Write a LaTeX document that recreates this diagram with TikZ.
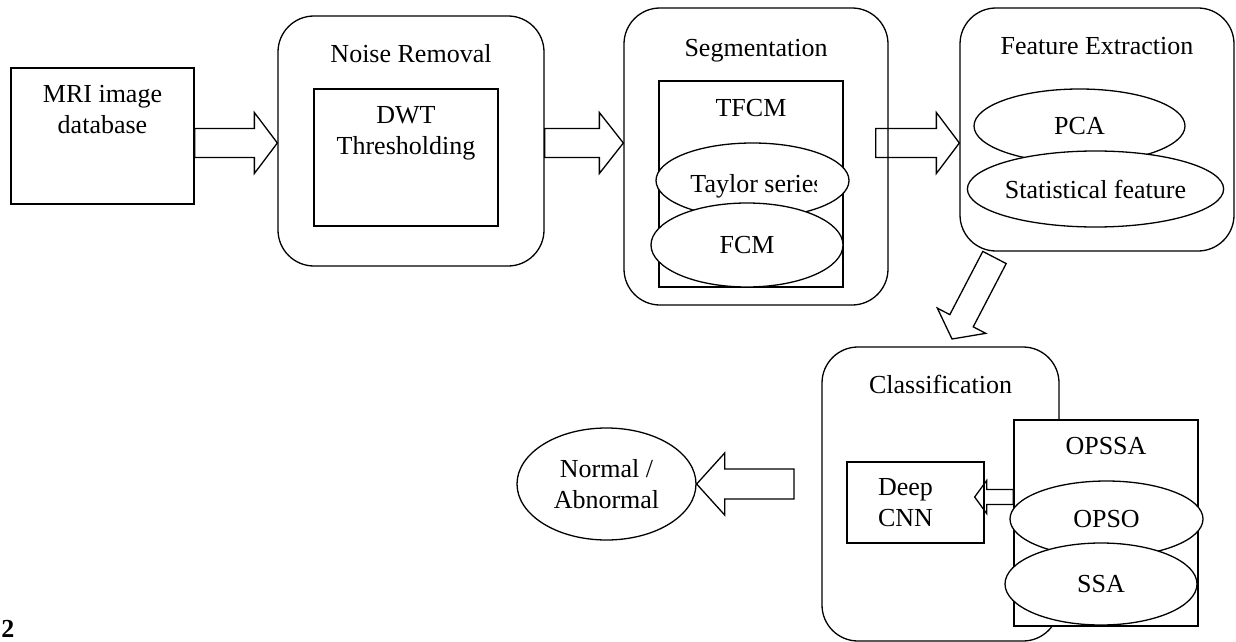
\documentclass[tikz,border=0pt]{standalone}
\usepackage{fontspec}
\setmainfont{Liberation Serif}
\usetikzlibrary{positioning,calc,shapes.geometric}
\definecolor{ink}{HTML}{000000}
\newcommand{\blockarrow}[5]{% tail, tip, half shaft, half head, head length
  \path ($(#2)!#5!(#1)$) coordinate (ahead);
  \draw[fatarr] ($(#1)!#3!90:(#2)$) -- ($(ahead)!#3!90:(#2)$) -- ($(ahead)!#4!90:(#2)$) -- (#2)
    -- ($(ahead)!#4!-90:(#2)$) -- ($(ahead)!#3!-90:(#2)$) -- ($(#1)!#3!-90:(#2)$) -- cycle;}
\tikzset{
  txt/.style={font=\fontsize{13}{15.5}\selectfont,text=ink,inner sep=0pt},
  box/.style={txt,draw=ink,line width=0.65pt,fill=white},
  stage/.style={box,rounded corners=18pt},
  oval/.style={box,ellipse},
  fatarr/.style={draw=ink,line width=0.65pt,line join=miter}
}
\begin{document}
\begin{tikzpicture}[x=0.5pt,y=-0.5pt]
  \useasboundingbox (0,0) rectangle (1236,642);
  % input
  \node[box,minimum width=91.5pt,minimum height=68pt] (mri) at (102.5,136) {};
  \node[txt,align=center,below=8.6pt of mri.north] (mritxt) {MRI image\\database};
  % noise removal
  \node[stage,minimum width=133pt,minimum height=125pt] (noise) at (411,141) {};
  \node[txt,below=14.6pt of noise.north] (noisettl) {Noise Removal};
  \node[box,minimum width=92pt,minimum height=68.5pt] (dwt) at (406,157.5) {};
  \node[txt,align=center,below=8.9pt of dwt.north] (dwttxt) {DWT\\Thresholding};
  % segmentation
  \node[stage,minimum width=132pt,minimum height=148.5pt] (seg) at (756,156.5) {};
  \node[txt,below=15.6pt of seg.north] (segttl) {Segmentation};
  \node[box,minimum width=92pt,minimum height=103pt] (tfcm) at (751,184) {};
  \node[txt,below=9.4pt of tfcm.north] (tfcmtxt) {TFCM};
  \node[oval,minimum width=96.5pt,minimum height=37.5pt] (taylor) at (752.5,180.5) {};
  \begin{scope}
    \clip (600,140) rectangle (816,220);
    \node[txt,anchor=base west] (taylortxt) at (690,192) {Taylor series};
  \end{scope}
  \node[oval,minimum width=96pt,minimum height=42pt] (fcm) at (747,245) {FCM};
  % feature extraction
  \node[stage,minimum width=137pt,minimum height=121.5pt] (feat) at (1097,129.5) {};
  \node[txt,below=14.6pt of feat.north] (featttl) {Feature Extraction};
  \node[oval,minimum width=105.5pt,minimum height=37pt] (pca) at (1079.5,126) {PCA};
  \node[oval,minimum width=127.5pt,minimum height=38pt] (stat) at (1095.5,189) {Statistical feature};
  % classification
  \node[stage,minimum width=118.5pt,minimum height=147pt] (class) at (940.5,494) {};
  \node[txt,below=14.1pt of class.north] (classttl) {Classification};
  \node[box,align=left,text width=37.5pt,inner xsep=15.5pt,minimum height=40.5pt] (deep) at (915.5,502.5) {Deep\\CNN};
  \node[box,minimum width=92pt,minimum height=103pt] (opssa) at (1106,523) {};
  \node[txt,below=8.9pt of opssa.north] (opssatxt) {OPSSA};
  \node[oval,minimum width=96.5pt,minimum height=38pt] (opso) at (1106.5,519) {OPSO};
  \node[oval,minimum width=96pt,minimum height=41pt] (ssa) at (1101,584) {SSA};
  % output
  \node[oval,minimum width=89.5pt,minimum height=56pt,align=center] (normal) at (606.5,484) {Normal /\\Abnormal};
  \node[txt,font=\bfseries\fontsize{13}{15.5}\selectfont,anchor=base west] (figno) at (1,637) {2};
  % block arrows
  \coordinate (a1t) at ($(mri.east)+(0,7)$);
  \coordinate (a1h) at ($(noise.west)+(0,2)$);
  \blockarrow{a1t}{a1h}{7.25pt}{15.25pt}{11.5pt}
  \coordinate (a2t) at ($(noise.east)+(0,2)$);
  \coordinate (a2h) at ($(seg.west)+(0,-13.5)$);
  \blockarrow{a2t}{a2h}{7.25pt}{15.25pt}{12pt}
  \coordinate (a3t) at ($(seg.east)+(-13,-13.5)$);
  \coordinate (a3h) at ($(feat.west)+(0,13.5)$);
  \blockarrow{a3t}{a3h}{7.25pt}{15.25pt}{11.5pt}
  \coordinate (a4t) at (994.5,257.5);
  \coordinate (a4h) at (952,339);
  \blockarrow{a4t}{a4h}{6.6pt}{13.65pt}{10.3pt}
  \coordinate (a5t) at (794,484);
  \blockarrow{a5t}{normal.east}{7.5pt}{15.5pt}{14pt}
  \coordinate (a6t) at ($(opssa.west)+(0,-26)$);
  \coordinate (a6h) at ($(deep.east)+(-10,-5.5)$);
  \blockarrow{a6t}{a6h}{3.75pt}{8.25pt}{6pt}
\end{tikzpicture}
\end{document}
